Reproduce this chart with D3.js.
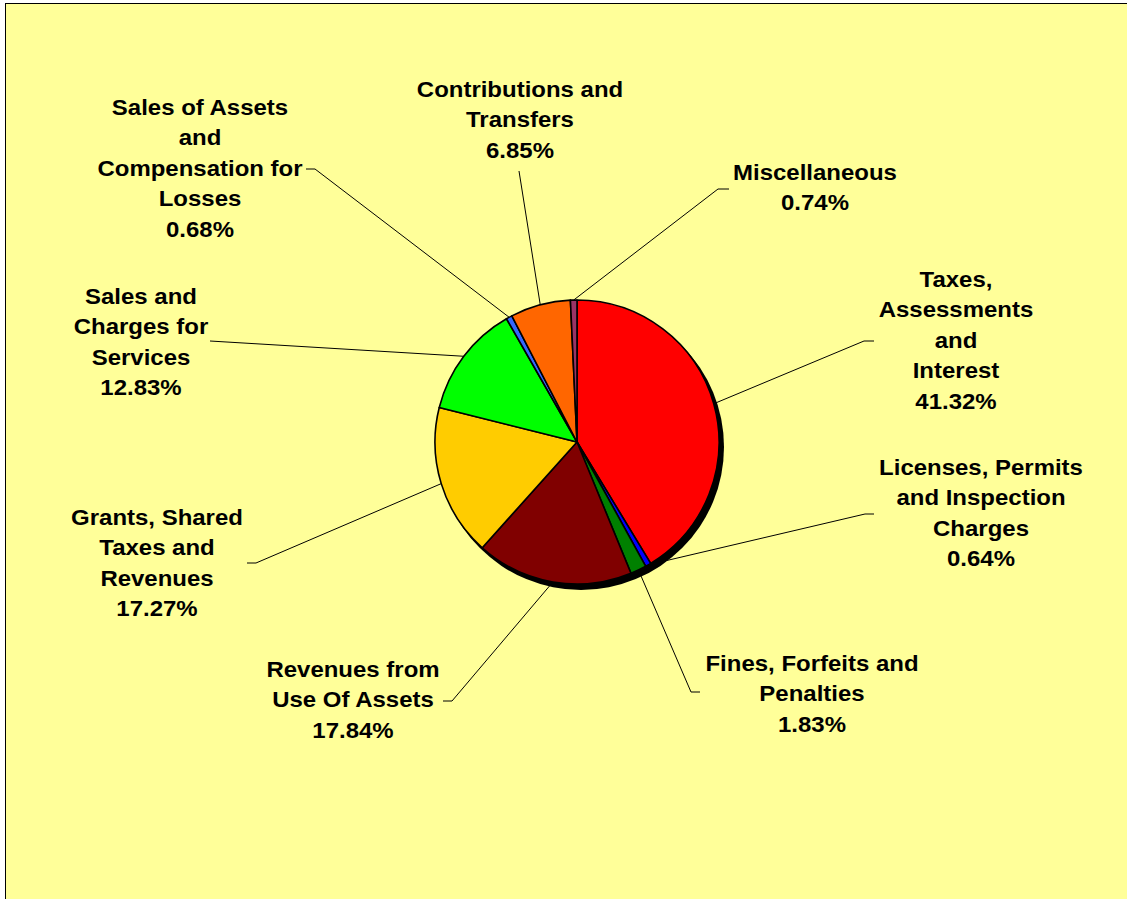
<!DOCTYPE html>
<html>
<head>
<meta charset="utf-8">
<script src="https://cdn.jsdelivr.net/npm/d3@7/dist/d3.min.js"></script>
<style>
  html, body { margin: 0; padding: 0; background: #ffffff; overflow: hidden; }
  svg { display: block; }
</style>
</head>
<body>
<svg id="chart" width="1127" height="899"></svg>
<script>

  // chart data, clockwise from 12 o'clock
  var categories = [
    "Taxes, Assessments and Interest",
    "Licenses, Permits and Inspection Charges",
    "Fines, Forfeits and Penalties",
    "Revenues from Use Of Assets",
    "Grants, Shared Taxes and Revenues",
    "Sales and Charges for Services",
    "Sales of Assets and Compensation for Losses",
    "Contributions and Transfers",
    "Miscellaneous"
  ];
  var shares = [41.32, 0.64, 1.83, 17.84, 17.27, 12.83, 0.68, 6.85, 0.74];

  // how each category name wraps in its label
  var labelLines = [
    ["Taxes,", "Assessments", "and", "Interest"],
    ["Licenses, Permits", "and Inspection", "Charges"],
    ["Fines, Forfeits and", "Penalties"],
    ["Revenues from", "Use Of Assets"],
    ["Grants, Shared", "Taxes and", "Revenues"],
    ["Sales and", "Charges for", "Services"],
    ["Sales of Assets", "and", "Compensation for", "Losses"],
    ["Contributions and", "Transfers"],
    ["Miscellaneous"]
  ];

  var sliceColors = ["#ff0000", "#0000ff", "#008000", "#800000", "#ffcc00",
    "#00ff00", "#3366ff", "#ff6600", "#993366"];

  // label placement: text centre x, first baseline y, leader elbow, tick end x
  var LABEL_LAYOUT = [
    {x: 956, y: 287, ex: 864, ey: 341, tx: 874},
    {x: 981, y: 475, ex: 865, ey: 514, tx: 874},
    {x: 812, y: 671, ex: 691, ey: 692, tx: 700},
    {x: 353, y: 677, ex: 452, ey: 701, tx: 443},
    {x: 157, y: 525, ex: 256, ey: 563, tx: 247},
    {x: 141, y: 304, ex: 210, ey: 341, tx: 210},
    {x: 200, y: 115, ex: 315, ey: 169, tx: 306},
    {x: 520, y: 97, ex: 519, ey: 171, tx: 519},
    {x: 815, y: 180, ex: 718, ey: 189, tx: 729}
  ];

  var CX = 577;
  var CY = 442;
  var RADIUS = 142;
  var LINE_STEP = 30.5;
  var FONT_SIZE = 22;
  var TEXT_STRETCH = 1.09;

  var svg = d3.select("#chart");

  // chart area, runs past the right and bottom edges
  svg.append("rect")
    .attr("x", 5.5)
    .attr("y", 3.5)
    .attr("width", 1200)
    .attr("height", 1000)
    .style("fill", "#ffff99")
    .style("stroke", "#000000")
    .style("stroke-width", 1);

  var pie = d3.pie()
    .sort(null)
    .value(function (d) { return d; });

  var arcs = pie(shares);

  var arc = d3.arc()
    .innerRadius(0)
    .outerRadius(RADIUS);

  var edgeArc = d3.arc()
    .innerRadius(RADIUS)
    .outerRadius(RADIUS);

  // leader lines go under the pie
  var leaders = svg.append("g").classed("leaders", true);

  arcs.forEach(function (a, i) {
    var lay = LABEL_LAYOUT[i];
    var p = edgeArc.centroid(a);
    leaders.append("polyline")
      .attr("points", [
        [CX + p[0], CY + p[1]],
        [lay.ex, lay.ey],
        [lay.tx, lay.ey]
      ].map(function (q) { return q.join(","); }).join(" "))
      .style("fill", "none")
      .style("stroke", "#000000")
      .style("stroke-width", 1);
  });

  var pieGroup = svg.append("g")
    .attr("transform", "translate(" + CX + "," + CY + ")");

  // shadow
  pieGroup.append("circle")
    .attr("cx", 4)
    .attr("cy", 5)
    .attr("r", RADIUS + 1)
    .style("fill", "#000000");

  pieGroup.selectAll("path.slice")
    .data(arcs)
    .enter()
    .append("path")
    .classed("slice", true)
    .attr("d", arc)
    .style("fill", function (d, i) { return sliceColors[i]; })
    .style("stroke", "#000000")
    .style("stroke-width", 1.6)
    .style("stroke-linejoin", "round");

  // labels
  var fmt = d3.format(".2f");

  categories.forEach(function (name, i) {
    var lay = LABEL_LAYOUT[i];
    var lines = labelLines[i].concat([fmt(shares[i]) + "%"]);

    var g = svg.append("g")
      .classed("label", true)
      .attr("transform", "translate(" + lay.x + "," + lay.y + ") scale(" + TEXT_STRETCH + ",1)");

    var text = g.append("text")
      .attr("text-anchor", "middle")
      .style("font-family", "'Liberation Sans', Arial, sans-serif")
      .style("font-weight", "bold")
      .style("font-size", FONT_SIZE + "px")
      .style("fill", "#000000");

    lines.forEach(function (line, j) {
      text.append("tspan")
        .attr("x", 0)
        .attr("y", j * LINE_STEP)
        .text(line);
    });
  });

</script>
</body>
</html>
